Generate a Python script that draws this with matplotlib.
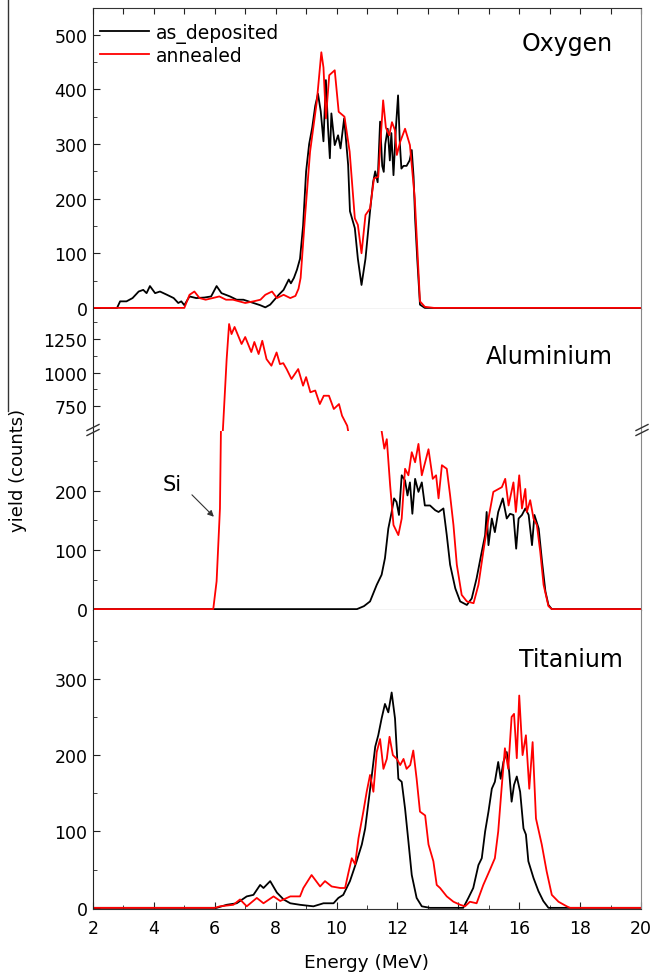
import matplotlib
matplotlib.use("Agg")
import matplotlib.pyplot as plt
from matplotlib.ticker import MultipleLocator, FixedLocator
from matplotlib.lines import Line2D

plt.rcParams['font.family'] = ['DejaVu Sans']

# ---- Oxygen ----
o_dep_e = [2.0, 2.79, 2.89, 3.1, 3.3, 3.5, 3.65, 3.76, 3.87, 4.04, 4.2, 4.43, 4.65, 4.8, 4.9, 5.0,
           5.17, 5.39, 5.66, 5.88, 6.06, 6.22, 6.5, 6.72, 6.94, 7.27, 7.49, 7.66, 7.82, 8.1, 8.26,
           8.43, 8.5, 8.6, 8.7, 8.8, 8.9, 9.0, 9.1, 9.2, 9.3, 9.39, 9.48, 9.57, 9.65, 9.72, 9.78,
           9.83, 9.94, 10.05, 10.13, 10.25, 10.38, 10.44, 10.6, 10.7, 10.82, 10.95, 11.1, 11.2,
           11.27, 11.35, 11.43, 11.5, 11.55, 11.6, 11.68, 11.75, 11.8, 11.87, 11.95, 12.02, 12.08,
           12.13, 12.2, 12.3, 12.4, 12.47, 12.53, 12.58, 12.65, 12.74, 12.9, 20.0]
o_dep_y = [0, 0, 12, 12, 18, 30, 33, 27, 40, 27, 30, 24, 18, 9, 12, 5,
           21, 18, 19, 21, 40, 27, 21, 15, 15, 9, 5, 1, 6, 24, 33,
           52, 45, 55, 70, 90, 150, 250, 300, 330, 370, 392, 360, 305, 417, 330, 274,
           356, 298, 316, 292, 347, 262, 177, 146, 90, 42, 90, 177, 230,
           250, 230, 341, 260, 249, 300, 328, 270, 320, 243, 330, 389, 300,
           255, 260, 260, 270, 289, 240, 164, 90, 6, 0, 0]

o_ann_e = [2.0, 5.0, 5.17, 5.33, 5.5, 5.7, 5.93, 6.15, 6.37, 6.6, 6.8, 7.0, 7.27, 7.5, 7.66, 7.88,
           8.04, 8.26, 8.48, 8.65, 8.75, 8.82, 8.96, 9.13, 9.35, 9.5, 9.57, 9.65, 9.76, 9.94,
           10.07, 10.26, 10.43, 10.6, 10.7, 10.82, 10.95, 11.1, 11.23, 11.37, 11.53, 11.62,
           11.73, 11.82, 11.92, 11.98, 12.09, 12.25, 12.41, 12.57, 12.74, 12.9, 13.2, 20.0]
o_ann_y = [0, 0, 24, 30, 18, 15, 18, 21, 15, 15, 12, 9, 12, 15, 24, 30,
           18, 24, 18, 22, 35, 55, 164, 286, 377, 468, 440, 347, 426, 435,
           359, 350, 286, 164, 152, 100, 170, 182, 237, 240, 380, 330,
           316, 340, 325, 280, 304, 328, 298, 200, 12, 2, 0, 0]

# ---- Aluminium ----
al_dep_e = [2.0, 10.67, 10.9, 11.1, 11.32, 11.48, 11.59, 11.7, 11.81, 11.89, 11.97, 12.05, 12.14,
            12.25, 12.33, 12.41, 12.49, 12.58, 12.69, 12.8, 12.9, 13.07, 13.24, 13.35, 13.51,
            13.62, 13.73, 13.9, 14.06, 14.28, 14.44, 14.6, 14.77, 14.88, 14.93, 14.99, 15.1,
            15.2, 15.31, 15.46, 15.59, 15.7, 15.81, 15.9, 15.98, 16.09, 16.2, 16.31, 16.42,
            16.5, 16.64, 16.75, 16.86, 16.96, 17.07, 20.0]
al_dep_y = [0, 0, 5, 13, 41, 58, 86, 136, 164, 187, 181, 159, 226,
            217, 192, 214, 161, 220, 198, 214, 175, 175, 167, 164, 170,
            125, 75, 35, 13, 7, 18, 52, 97, 125, 164, 108, 153,
            130, 164, 187, 153, 161, 159, 102, 153, 159, 170, 159, 108,
            159, 136, 80, 30, 7, 0, 0]

al_ann_e = [2.0, 5.95, 6.06, 6.17, 6.2, 6.28, 6.39, 6.47, 6.55, 6.65, 6.88, 7.0, 7.2, 7.3, 7.44,
            7.56, 7.7, 7.86, 8.03, 8.14, 8.25, 8.36, 8.52, 8.74, 8.9, 9.0, 9.14, 9.3, 9.45, 9.58,
            9.75, 9.91, 10.08, 10.18, 10.35, 10.4, 11.45, 11.48, 11.57, 11.65, 11.76, 11.87,
            12.03, 12.14, 12.25, 12.36, 12.47, 12.58, 12.69, 12.8, 13.02, 13.16, 13.27, 13.35,
            13.46, 13.62, 13.73, 13.84, 13.95, 14.11, 14.28, 14.5, 14.66, 14.82, 14.99, 15.15,
            15.43, 15.54, 15.65, 15.81, 15.89, 16.0, 16.09, 16.2, 16.25, 16.36, 16.47, 16.58,
            16.69, 16.8, 16.96, 17.07, 20.0]
al_ann_y = [0, 0, 47, 170, 293, 630, 1100, 1362, 1287, 1340, 1213, 1265, 1153, 1228, 1138,
            1237, 1100, 1051, 1150, 1063, 1070, 1026, 952, 1026, 902, 966, 853, 866, 765, 827,
            827, 728, 765, 678, 603, 540, 310, 301, 271, 287, 209, 142,
            125, 153, 237, 226, 265, 248, 279, 226, 270, 220, 226, 187,
            243, 237, 192, 142, 75, 24, 13, 10, 41, 97, 153, 198,
            206, 220, 175, 214, 164, 226, 170, 203, 164, 184, 153, 142,
            97, 41, 5, 0, 0]

# ---- Titanium ----
ti_dep_e = [2.0, 6.06, 6.39, 6.72, 7.05, 7.27, 7.49, 7.6, 7.82, 8.04, 8.26, 8.48, 8.8, 9.24, 9.57,
            9.9, 10.06, 10.22, 10.44, 10.66, 10.83, 10.94, 11.05, 11.16, 11.27, 11.37, 11.48,
            11.59, 11.7, 11.81, 11.92, 12.03, 12.14, 12.25, 12.36, 12.47, 12.63, 12.8, 13.07,
            14.16, 14.33, 14.49, 14.66, 14.77, 14.88, 14.99, 15.1, 15.2, 15.31, 15.39, 15.48,
            15.59, 15.67, 15.75, 15.83, 15.92, 16.03, 16.14, 16.22, 16.3, 16.47, 16.63, 16.79,
            16.96, 20.0]
ti_dep_y = [0, 0, 4, 6, 15, 17, 30, 26, 35, 20, 11, 6, 4, 2, 6,
            6, 13, 17, 35, 61, 83, 104, 139, 174, 211, 226, 248,
            267, 256, 282, 248, 169, 165, 130, 87, 43, 13, 2, 0,
            0, 13, 26, 56, 65, 100, 126, 156, 165, 191, 169, 191,
            204, 178, 139, 161, 172, 152, 104, 96, 61, 39, 22, 9,
            0, 0]

ti_ann_e = [2.0, 6.0, 6.17, 6.61, 6.83, 7.05, 7.38, 7.6, 7.93, 8.15, 8.48, 8.8, 8.91, 9.18, 9.46,
            9.62, 9.84, 10.12, 10.28, 10.39, 10.5, 10.61, 10.72, 10.88, 10.99, 11.1, 11.21,
            11.32, 11.43, 11.54, 11.65, 11.74, 11.85, 11.98, 12.09, 12.2, 12.3, 12.42, 12.52,
            12.63, 12.74, 12.91, 13.02, 13.18, 13.29, 13.4, 13.62, 13.84, 14.06, 14.22, 14.38,
            14.6, 14.82, 15.04, 15.2, 15.31, 15.42, 15.53, 15.64, 15.75, 15.83, 15.92, 16.0,
            16.11, 16.22, 16.33, 16.44, 16.55, 16.74, 16.9, 17.07, 17.29, 17.56, 17.67, 20.0]
ti_ann_y = [0, 0, 2, 4, 11, 2, 13, 6, 15, 9, 15, 15, 26, 43, 28,
            35, 28, 26, 26, 46, 65, 57, 91, 126, 152, 174, 152,
            204, 221, 182, 195, 224, 200, 195, 187, 195, 182, 187, 206,
            169, 126, 121, 83, 61, 30, 26, 15, 8, 4, 2, 8,
            6, 30, 50, 65, 100, 156, 209, 182, 250, 254, 196, 278,
            200, 226, 156, 217, 117, 83, 48, 17, 8, 2, 0, 0]

fig = plt.figure(figsize=(6.54, 9.78), dpi=100)
W_PX, H_PX = 654, 978


def box(top_px, bot_px):
    return [93 / W_PX, 1 - bot_px / H_PX, 548 / W_PX, (bot_px - top_px) / H_PX]


ax_o = fig.add_axes(box(9, 310))
ax_au = fig.add_axes(box(310, 432))
ax_al = fig.add_axes(box(432, 611))
ax_ti = fig.add_axes(box(611, 910))

lw = 1.3
ax_o.plot(o_dep_e, o_dep_y, color='black', lw=lw, label='as_deposited')
ax_o.plot(o_ann_e, o_ann_y, color='#ff0000', lw=lw, label='annealed')
for ax in (ax_au, ax_al):
    ax.plot(al_dep_e, al_dep_y, color='black', lw=lw)
    ax.plot(al_ann_e, al_ann_y, color='#ff0000', lw=lw)
ax_ti.plot(ti_dep_e, ti_dep_y, color='black', lw=lw)
ax_ti.plot(ti_ann_e, ti_ann_y, color='#ff0000', lw=lw)

for ax in (ax_o, ax_au, ax_al, ax_ti):
    ax.set_xlim(2, 20)
    ax.spines['left'].set_color('#222222')
    ax.spines['right'].set_color('#888888')
    ax.spines['bottom'].set_color('#333333')
    ax.spines['top'].set_color('#333333')
    ax.tick_params(axis='y', which='both', direction='in', labelsize=12.5, pad=4,
                   right=False, color='#222222')
    ax.tick_params(axis='y', which='major', length=5)
    ax.tick_params(axis='y', which='minor', length=3)

# oxygen
ax_o.set_ylim(-2, 549)
ax_o.yaxis.set_major_locator(FixedLocator([0, 100, 200, 300, 400, 500]))
ax_o.yaxis.set_minor_locator(FixedLocator([50, 150, 250, 350, 450]))
ax_o.xaxis.set_ticks_position('top')
ax_o.xaxis.set_major_locator(MultipleLocator(1))
ax_o.tick_params(axis='x', which='both', direction='in', length=4, labeltop=False,
                 labelbottom=False, color='#222222')

# aluminium upper / lower
ax_au.set_ylim(564, 1474)
ax_au.yaxis.set_major_locator(FixedLocator([750, 1000, 1250]))
ax_au.yaxis.set_minor_locator(FixedLocator([875, 1125, 1375]))
ax_au.spines['top'].set_visible(False)
ax_au.spines['bottom'].set_visible(False)
ax_au.set_xticks([])

ax_al.set_ylim(-1.5, 300.8)
ax_al.yaxis.set_major_locator(FixedLocator([0, 100, 200]))
ax_al.yaxis.set_minor_locator(FixedLocator([50, 150, 250]))
ax_al.spines['top'].set_visible(False)
ax_al.set_xticks([])

# titanium
ax_ti.set_ylim(-1.5, 390)
ax_ti.yaxis.set_major_locator(FixedLocator([0, 100, 200, 300]))
ax_ti.yaxis.set_minor_locator(FixedLocator([50, 150, 250, 350]))
ax_ti.spines['top'].set_visible(False)
ax_ti.xaxis.set_major_locator(MultipleLocator(2))
ax_ti.xaxis.set_minor_locator(MultipleLocator(1))
ax_ti.tick_params(axis='x', which='both', direction='in', labelsize=12.5, pad=7,
                  top=False, color='#222222')
ax_ti.tick_params(axis='x', which='major', length=5)
ax_ti.tick_params(axis='x', which='minor', length=3)

# legend and labels
ax_o.legend(loc='upper left', bbox_to_anchor=(0.0128, 0.95), frameon=False, fontsize=13.5,
            handlelength=2.6, handletextpad=0.4, labelspacing=0.16, borderpad=0,
            borderaxespad=0)
ax_o.text(0.949, 0.884, 'Oxygen', transform=ax_o.transAxes, ha='right', va='center', fontsize=17)
ax_au.text(0.949, 0.615, 'Aluminium', transform=ax_au.transAxes, ha='right', va='center',
           fontsize=17)
ax_ti.text(0.967, 0.836, 'Titanium', transform=ax_ti.transAxes, ha='right', va='center',
           fontsize=17)

ax_al.annotate('', xy=(5.97, 156), xytext=(5.25, 193),
               arrowprops=dict(arrowstyle='-|>', color='#333333', lw=0.8, mutation_scale=9,
                               shrinkA=0, shrinkB=0))
ax_al.text(4.6, 212, 'Si', ha='center', va='center', fontsize=15)

fig.text(18 / W_PX, 1 - 470 / H_PX, 'yield (counts)', rotation=90, ha='center', va='center',
         fontsize=13)
fig.text(367 / W_PX, 1 - 963 / H_PX, 'Energy (MeV)', ha='center', va='center', fontsize=13.3)

# axis break marks and the frame line at the far left
for cx in (93, 642):
    for dy in (-2.5, 2.5):
        cy = 431 + dy
        fig.add_artist(Line2D([(cx - 6) / W_PX, (cx + 6) / W_PX],
                              [1 - (cy + 3) / H_PX, 1 - (cy - 3) / H_PX],
                              color='#333333', lw=1))
fig.add_artist(Line2D([8 / W_PX, 8 / W_PX], [1, 1 - 412 / H_PX], color='#333333', lw=1))

fig.savefig('out.png', dpi=100, facecolor='white')
